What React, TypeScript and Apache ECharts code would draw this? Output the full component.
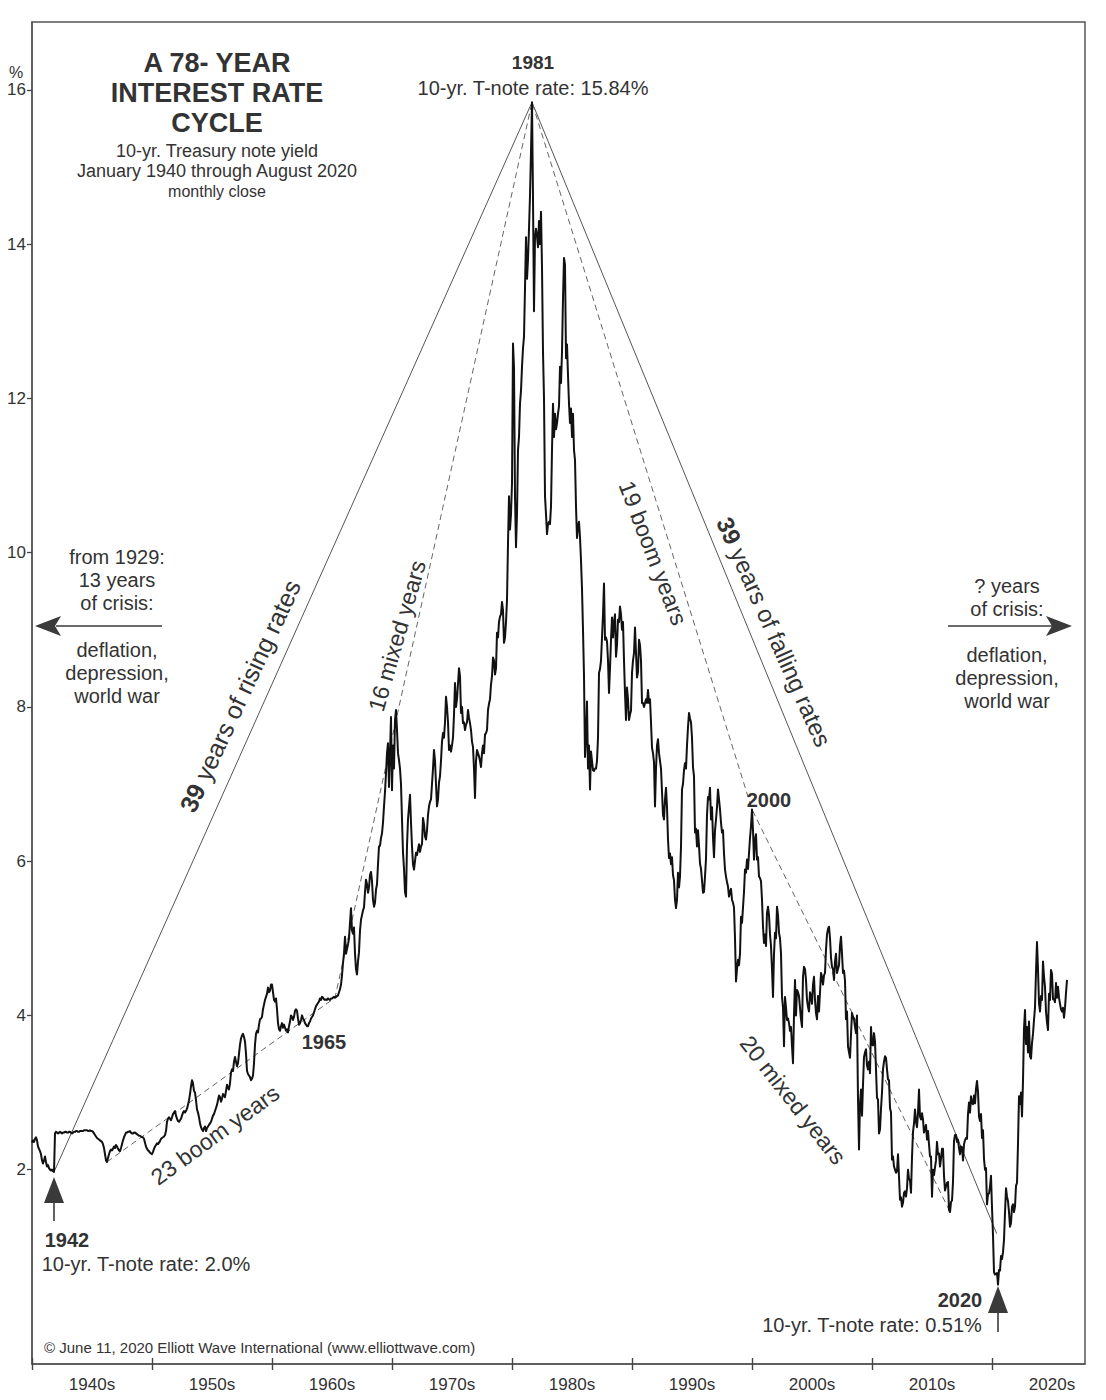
import React, { useEffect, useRef } from "react";
import * as echarts from "echarts";

const FONT = '"Liberation Sans", Arial, Helvetica, sans-serif';
const INK = "#333333";

// Monthly closes of the 10-yr. Treasury yield (%), one row per year
const y1940s = [
  2.35, 2.38, 2.36, 2.40, 2.42, 2.38, 2.30, 2.27, 2.24, 2.20, 2.12, 2.08,
  2.12, 2.17, 2.10, 2.04, 2.06, 2.02, 2.00, 1.99, 2.00, 1.98, 1.97, 2.47,
  2.49, 2.48, 2.47, 2.48, 2.49, 2.48, 2.47, 2.48, 2.48, 2.49, 2.49, 2.48,
  2.48, 2.49, 2.49, 2.48, 2.47, 2.48, 2.49, 2.49, 2.50, 2.50, 2.49, 2.49,
  2.50, 2.50, 2.50, 2.50, 2.51, 2.51, 2.51, 2.51, 2.50, 2.50, 2.51, 2.50,
  2.50, 2.49, 2.47, 2.45, 2.43, 2.41, 2.40, 2.39, 2.38, 2.37, 2.36, 2.33,
  2.28, 2.20, 2.12, 2.10, 2.15, 2.20, 2.24, 2.26, 2.25, 2.27, 2.30, 2.28,
  2.32, 2.30, 2.27, 2.25, 2.24, 2.28, 2.33, 2.38, 2.42, 2.45, 2.48, 2.48,
  2.49, 2.49, 2.50, 2.48, 2.47, 2.47, 2.48, 2.48, 2.47, 2.46, 2.45, 2.44,
  2.44, 2.43, 2.42, 2.42, 2.40, 2.35, 2.30, 2.27, 2.25, 2.24, 2.22, 2.21,
];
const y1950s = [
  2.20, 2.23, 2.27, 2.30, 2.32, 2.34, 2.33, 2.35, 2.37, 2.40, 2.41, 2.42,
  2.43, 2.45, 2.50, 2.62, 2.66, 2.68, 2.66, 2.64, 2.68, 2.72, 2.74, 2.76,
  2.70, 2.66, 2.63, 2.62, 2.64, 2.66, 2.70, 2.74, 2.76, 2.74, 2.76, 2.79,
  2.84, 2.90, 2.98, 3.08, 3.16, 3.12, 3.02, 3.00, 2.90, 2.78, 2.74, 2.68,
  2.60, 2.55, 2.52, 2.50, 2.54, 2.56, 2.50, 2.54, 2.56, 2.58, 2.60, 2.62,
  2.66, 2.70, 2.72, 2.76, 2.80, 2.84, 2.90, 2.96, 2.94, 2.88, 2.92, 2.98,
  2.96, 2.94, 3.02, 3.10, 3.06, 3.04, 3.12, 3.26, 3.30, 3.28, 3.40, 3.46,
  3.40, 3.34, 3.38, 3.50, 3.62, 3.70, 3.74, 3.76, 3.72, 3.66, 3.50, 3.28,
  3.24, 3.22, 3.20, 3.16, 3.18, 3.22, 3.38, 3.62, 3.76, 3.80, 3.78, 3.88,
  3.95, 3.96, 3.98, 4.08, 4.14, 4.20, 4.24, 4.28, 4.36, 4.30, 4.32, 4.40,
];
const y1960s = [
  4.40, 4.30, 4.20, 4.18, 4.22, 4.08, 3.90, 3.82, 3.80, 3.86, 3.90, 3.84,
  3.88, 3.84, 3.80, 3.82, 3.78, 3.86, 3.92, 4.00, 3.98, 3.94, 3.98, 4.06,
  4.08, 4.06, 3.96, 3.88, 3.90, 3.94, 4.00, 3.96, 3.94, 3.90, 3.88, 3.86,
  3.86, 3.90, 3.92, 3.96, 3.98, 4.00, 4.04, 4.08, 4.12, 4.14, 4.16, 4.18,
  4.22, 4.20, 4.24, 4.23, 4.21, 4.20, 4.21, 4.20, 4.22, 4.21, 4.20, 4.22,
  4.22, 4.23, 4.24, 4.23, 4.24, 4.25, 4.26, 4.30, 4.34, 4.40, 4.52, 4.68,
  4.80, 5.02, 4.80, 4.86, 4.92, 5.00, 5.20, 5.39, 5.10, 5.06, 5.14, 4.80,
  4.60, 4.53, 4.70, 4.82, 5.10, 5.24, 5.30, 5.36, 5.40, 5.60, 5.76, 5.70,
  5.59, 5.66, 5.82, 5.86, 5.74, 5.50, 5.41, 5.46, 5.63, 5.70, 5.96, 6.19,
  6.20, 6.30, 6.36, 6.50, 6.71, 6.90, 7.14, 7.40, 7.53, 6.96, 7.40, 7.87,
];
const y1970s = [
  6.92, 7.50, 7.20, 7.83, 7.96, 7.70, 7.40, 7.31, 7.20, 7.00, 6.54, 6.11,
  5.90, 5.60, 5.54, 6.20, 6.54, 6.70, 6.86, 6.50, 6.19, 5.96, 5.89, 6.00,
  6.11, 6.08, 6.15, 6.22, 6.12, 6.19, 6.22, 6.56, 6.48, 6.32, 6.28, 6.40,
  6.60, 6.71, 6.77, 6.80, 7.00, 7.20, 7.44, 7.30, 7.00, 6.71, 6.80, 7.02,
  7.10, 7.30, 7.55, 7.66, 7.60, 7.80, 8.13, 8.00, 7.80, 7.44, 7.50, 7.42,
  7.50, 7.60, 7.90, 8.31, 8.00, 8.10, 8.30, 8.50, 8.40, 7.92, 8.00, 7.79,
  7.80, 7.70, 7.77, 7.80, 7.96, 7.86, 7.79, 7.70, 7.55, 7.48, 7.20, 6.82,
  7.30, 7.44, 7.40, 7.36, 7.30, 7.22, 7.40, 7.50, 7.40, 7.64, 7.66, 7.70,
  7.96, 8.04, 8.10, 8.29, 8.40, 8.64, 8.60, 8.42, 8.50, 8.96, 8.90, 9.10,
  9.17, 9.20, 9.36, 9.25, 8.83, 8.90, 9.10, 9.39, 10.12, 10.73, 10.30, 10.50,
];
const y1980s = [
  10.90, 12.71, 12.40, 10.73, 10.07, 10.50, 11.33, 11.50, 11.93, 12.10, 12.41, 12.65,
  12.80, 13.43, 14.09, 13.55, 13.80, 14.20, 14.63, 15.20, 15.84, 14.60, 13.13, 14.09,
  14.20, 14.10, 13.96, 14.30, 14.00, 14.42, 13.70, 12.60, 12.00, 10.73, 10.50, 10.24,
  10.37, 10.40, 10.37, 10.60, 11.33, 11.93, 11.50, 11.80, 11.60, 11.68, 11.80, 11.90,
  12.41, 12.20, 12.60, 13.30, 13.82, 13.73, 12.52, 12.70, 12.30, 11.93, 11.68, 11.87,
  11.50, 11.80, 11.33, 11.20, 10.60, 10.19, 10.34, 10.40, 10.20, 9.90, 9.53, 9.00,
  8.40, 7.35, 7.60, 8.07, 7.20, 7.50, 6.93, 7.42, 7.30, 7.18, 7.17, 7.20,
  7.20, 7.30, 7.60, 8.44, 8.49, 8.60, 8.90, 9.20, 9.60, 8.87, 8.90, 8.85,
  8.60, 8.18, 8.50, 8.87, 9.16, 8.90, 9.10, 9.20, 8.65, 8.80, 9.13, 9.10,
  9.30, 9.20, 9.00, 9.10, 8.60, 8.18, 7.83, 8.25, 8.10, 7.83, 7.90, 7.95,
];
const y1990s = [
  8.44, 8.60, 8.70, 9.03, 8.70, 8.38, 8.45, 8.87, 8.80, 8.60, 8.05, 8.05,
  8.00, 8.05, 8.10, 8.05, 8.22, 8.05, 8.10, 7.80, 7.47, 7.40, 7.28, 6.71,
  7.20, 7.50, 7.58, 7.40, 7.30, 7.20, 6.90, 6.60, 6.54, 6.80, 6.95, 6.70,
  6.28, 6.04, 6.10, 5.96, 6.05, 5.82, 5.75, 5.50, 5.39, 5.50, 5.85, 5.66,
  5.80, 6.19, 6.93, 7.00, 7.18, 7.27, 7.20, 7.50, 7.74, 7.92, 7.85, 7.80,
  7.60, 7.22, 7.10, 6.37, 6.42, 6.19, 6.40, 6.20, 5.97, 5.90, 5.75, 5.59,
  5.60, 5.80, 6.03, 6.60, 6.83, 6.80, 6.95, 6.54, 6.70, 6.30, 6.05, 6.40,
  6.54, 6.70, 6.93, 6.80, 6.67, 6.50, 6.37, 6.40, 6.10, 5.89, 5.80, 5.73,
  5.67, 5.54, 5.60, 5.64, 5.50, 5.46, 5.40, 5.00, 4.44, 4.60, 4.72, 4.65,
  4.80, 5.28, 5.20, 5.40, 5.60, 5.89, 5.85, 6.02, 5.90, 6.10, 6.30, 6.45,
];
const y2000s = [
  6.67, 6.40, 6.02, 6.28, 6.35, 6.02, 6.05, 5.80, 5.78, 5.74, 5.50, 5.15,
  4.94, 5.05, 4.90, 5.33, 5.41, 5.30, 5.05, 4.90, 4.60, 4.24, 4.80, 5.07,
  5.00, 5.41, 5.30, 5.07, 5.00, 4.80, 4.24, 4.10, 3.60, 4.24, 4.10, 3.94,
  3.96, 3.90, 3.80, 3.85, 3.60, 3.38, 4.00, 4.46, 4.00, 4.33, 4.30, 4.25,
  4.10, 3.95, 3.85, 4.50, 4.63, 4.60, 4.46, 4.20, 4.11, 4.05, 4.30, 4.25,
  4.15, 4.40, 4.50, 4.20, 4.03, 3.95, 4.25, 4.05, 4.30, 4.55, 4.50, 4.40,
  4.52, 4.55, 4.85, 5.05, 5.12, 5.15, 5.00, 4.75, 4.63, 4.60, 4.46, 4.70,
  4.80, 4.55, 4.60, 4.65, 4.90, 5.02, 4.80, 4.55, 4.58, 4.45, 3.95, 4.05,
  3.60, 3.52, 3.45, 3.75, 4.03, 3.98, 3.95, 3.85, 3.77, 4.00, 2.92, 2.26,
  2.85, 3.04, 2.70, 3.10, 3.46, 3.52, 3.56, 3.35, 3.30, 3.40, 3.25, 3.85,
];
const y2010s = [
  3.62, 3.61, 3.77, 3.66, 3.30, 2.93, 2.91, 2.47, 2.52, 2.79, 3.00, 3.30,
  3.40, 3.47, 3.45, 3.30, 3.17, 3.16, 2.80, 2.74, 2.13, 2.17, 2.04, 2.00,
  1.96, 1.98, 2.20, 1.91, 1.61, 1.64, 1.52, 1.57, 1.70, 1.72, 1.65, 1.76,
  2.00, 1.88, 1.86, 1.70, 2.16, 2.49, 2.60, 2.78, 2.62, 2.55, 2.74, 3.04,
  2.69, 2.65, 2.73, 2.65, 2.48, 2.53, 2.58, 2.39, 2.50, 2.33, 2.17, 2.17,
  1.65, 2.00, 1.93, 2.03, 2.12, 2.36, 2.20, 2.21, 2.04, 2.14, 2.27, 2.27,
  1.92, 1.73, 1.78, 1.83, 1.84, 1.48, 1.45, 1.58, 1.60, 1.84, 2.37, 2.45,
  2.45, 2.36, 2.39, 2.28, 2.20, 2.30, 2.29, 2.12, 2.33, 2.38, 2.41, 2.40,
  2.72, 2.87, 2.74, 2.95, 2.86, 2.85, 2.96, 2.86, 3.05, 3.15, 3.01, 2.69,
  2.63, 2.72, 2.41, 2.51, 2.14, 2.00, 2.02, 1.55, 1.68, 1.69, 1.78, 1.92,
];
const y2020s = [
  1.51, 1.15, 0.67, 0.64, 0.65, 0.66, 0.51, 0.70, 0.69, 0.88, 0.84, 0.93,
  1.09, 1.44, 1.76, 1.65, 1.59, 1.45, 1.26, 1.31, 1.52, 1.55, 1.45, 1.52,
  1.79, 1.83, 2.34, 2.95, 2.85, 3.00, 2.69, 3.15, 3.83, 4.07, 3.63, 3.85,
  3.52, 3.92, 3.47, 3.44, 3.64, 3.76, 3.94, 4.10, 4.57, 4.95, 4.59, 4.16,
  4.05, 4.25, 4.20, 4.70, 4.50, 4.37, 4.05, 3.91, 3.81, 4.28, 4.20, 4.59,
  4.54, 4.21, 4.21, 4.17, 4.42, 4.23, 4.37, 4.23, 4.15, 4.08, 4.05, 4.10,
  3.97, 4.10, 4.29, 4.46,
];

const decadeStarts = [1940, 1950, 1960, 1970, 1980, 1990, 2000, 2010, 2020];
const decadeValues = [y1940s, y1950s, y1960s, y1970s, y1980s, y1990s, y2000s, y2010s, y2020s];

const yTickValues = [2, 4, 6, 8, 10, 12, 14, 16];
const decadeTicks = [1940, 1950, 1960, 1970, 1980, 1990, 2000, 2010, 2020];
const decadeLabelAt = [1945, 1955, 1965, 1975, 1985, 1995, 2005, 2015, 2025];

// trend lines between turning points [year, %]
const risingLine = [[1941 + 10 / 12, 1.97], [1981 + 8 / 12, 15.84]];
const fallingLine = [[1981 + 8 / 12, 15.84], [2020.39, 1.17]];
const dashedLine = [[1946.25, 2.1], [1965.25, 4.23], [1981 + 8 / 12, 15.84], [2000, 6.67], [2016 + 5 / 12, 1.48]];

const X_MIN = 1940;
const X_MAX = 2027.75;
const Y_MIN = -0.52;
const Y_MAX = 16.88;

function txt(x: number, y: number, text: string, size: number, opts: any = {}) {
  const bold = opts.bold ? "bold " : "";
  return {
    type: "text",
    x,
    y,
    rotation: opts.rot ? (opts.rot * Math.PI) / 180 : 0,
    silent: true,
    z: 100,
    style: {
      text,
      x: 0,
      y: 0,
      font: `${bold}${size}px ${FONT}`,
      fill: opts.color || INK,
      align: opts.align || "center",
      verticalAlign: "middle",
      textAlign: opts.align || "center",
      textVerticalAlign: "middle",
      rich: opts.rich,
    },
  };
}

function richTxt(x: number, y: number, text: string, size: number, rot: number) {
  const rich = {
    b: { fontWeight: "bold", fontSize: size, fontFamily: FONT, fill: INK, color: INK },
    n: { fontWeight: "normal", fontSize: size, fontFamily: FONT, fill: INK, color: INK },
  };
  return txt(x, y, text, size, { rot, rich });
}

const ARROW = "#3a3a3a";

function arrowGraphics() {
  const stroke = { stroke: ARROW, lineWidth: 1.6 };
  return [
    // left arrow
    { type: "line", silent: true, shape: { x1: 56, y1: 626, x2: 162, y2: 626 }, style: stroke },
    { type: "polygon", silent: true, shape: { points: [[35, 626], [61, 616], [55, 626], [61, 636]] }, style: { fill: ARROW } },
    // right arrow
    { type: "line", silent: true, shape: { x1: 948, y1: 626, x2: 1052, y2: 626 }, style: stroke },
    { type: "polygon", silent: true, shape: { points: [[1072, 626], [1046, 616], [1052, 626], [1046, 636]] }, style: { fill: ARROW } },
    // 1942 arrow
    { type: "line", silent: true, shape: { x1: 54, y1: 1200, x2: 54, y2: 1221 }, style: stroke },
    { type: "polygon", silent: true, shape: { points: [[54, 1177], [64, 1203], [44, 1203]] }, style: { fill: ARROW } },
    // 2020 arrow
    { type: "line", silent: true, shape: { x1: 998, y1: 1310, x2: 998, y2: 1332 }, style: stroke },
    { type: "polygon", silent: true, shape: { points: [[998, 1286], [1008, 1313], [988, 1313]] }, style: { fill: ARROW } },
  ];
}

export default function App() {
  const ref = useRef<HTMLDivElement>(null);

  useEffect(() => {
    if (!ref.current) return;
    const chart = echarts.init(ref.current, null, { renderer: "svg", width: 1106, height: 1400 });

    const rateData: number[][] = [];
    decadeStarts.forEach((start, d) => {
      decadeValues[d].forEach((v, i) => {
        rateData.push([start + i / 12, v]);
      });
    });

    const axisLineStyle = { color: "#555", width: 1.5 };

    const option: any = {
      animation: false,
      backgroundColor: "#ffffff",
      textStyle: { fontFamily: FONT },
      grid: {
        left: 32,
        top: 22,
        width: 1053,
        height: 1342,
        show: true,
        borderColor: "#555",
        borderWidth: 1.5,
        backgroundColor: "transparent",
        containLabel: false,
        outerBoundsMode: "none",
      },
      xAxis: [
        {
          type: "value",
          min: X_MIN,
          max: X_MAX,
          position: "bottom",
          axisLine: { show: true, onZero: false, lineStyle: axisLineStyle },
          axisTick: { show: true, length: 6, customValues: decadeTicks, lineStyle: { color: "#444", width: 1.4 } },
          axisLabel: {
            show: true,
            customValues: decadeLabelAt,
            formatter: (v: number) => `${Math.round(v - 5)}s`,
            fontSize: 17,
            fontFamily: FONT,
            color: INK,
            margin: 12,
          },
          splitLine: { show: false },
        },
        {
          type: "value",
          min: X_MIN,
          max: X_MAX,
          position: "bottom",
          axisLine: { show: false, onZero: false },
          axisTick: { show: true, inside: true, length: 6, customValues: decadeTicks, lineStyle: { color: "#444", width: 1.4 } },
          axisLabel: { show: false },
          splitLine: { show: false },
        },
      ],
      yAxis: {
        type: "value",
        min: Y_MIN,
        max: Y_MAX,
        axisLine: { show: true, onZero: false, lineStyle: axisLineStyle },
        axisTick: { show: true, length: 5, customValues: yTickValues, lineStyle: { color: "#444", width: 1.3 } },
        axisLabel: {
          show: true,
          customValues: yTickValues,
          fontSize: 17,
          fontFamily: FONT,
          color: INK,
          margin: 6,
        },
        splitLine: { show: false },
      },
      series: [
        {
          type: "line",
          data: risingLine,
          symbol: "none",
          silent: true,
          lineStyle: { color: "#555", width: 1 },
          z: 2,
        },
        {
          type: "line",
          data: fallingLine,
          symbol: "none",
          silent: true,
          lineStyle: { color: "#555", width: 1 },
          z: 2,
        },
        {
          type: "line",
          data: dashedLine,
          symbol: "none",
          silent: true,
          lineStyle: { color: "#666", width: 1, type: [6, 4] },
          z: 2,
        },
        {
          type: "line",
          data: rateData,
          symbol: "none",
          showSymbol: false,
          silent: true,
          lineStyle: { color: "#111", width: 2, join: "round" },
          z: 5,
        },
      ],
      graphic: {
        elements: [
          // title block
          txt(217, 63, "A 78- YEAR", 27, { bold: true }),
          txt(217, 93, "INTEREST RATE", 27, { bold: true }),
          txt(217, 123, "CYCLE", 27, { bold: true }),
          txt(217, 151, "10-yr. Treasury note yield", 18),
          txt(217, 171, "January 1940 through August 2020", 18),
          txt(217, 191, "monthly close", 16),
          // % unit
          txt(16, 72, "%", 16),
          // 1981 peak
          txt(533, 62, "1981", 19, { bold: true }),
          txt(533, 88, "10-yr. T-note rate: 15.84%", 20),
          // left block
          txt(117, 557, "from 1929:", 20),
          txt(117, 580, "13 years", 20),
          txt(117, 603, "of crisis:", 20),
          txt(117, 650, "deflation,", 20),
          txt(117, 673, "depression,", 20),
          txt(117, 696, "world war", 20),
          // right block
          txt(1007, 586, "? years", 20),
          txt(1007, 609, "of crisis:", 20),
          txt(1007, 655, "deflation,", 20),
          txt(1007, 678, "depression,", 20),
          txt(1007, 701, "world war", 20),
          // pivot labels
          txt(324, 1042, "1965", 20, { bold: true }),
          txt(769, 800, "2000", 20, { bold: true }),
          txt(67, 1240, "1942", 20, { bold: true }),
          txt(146, 1264, "10-yr. T-note rate: 2.0%", 20),
          txt(960, 1300, "2020", 20, { bold: true }),
          txt(872, 1325, "10-yr. T-note rate: 0.51%", 20),
          // rotated captions
          richTxt(240, 696, "{b|39}{n| years of rising rates}", 25, 65),
          txt(397, 636, "16 mixed years", 23, { rot: 74 }),
          txt(653, 553, "19 boom years", 23, { rot: -69 }),
          richTxt(774, 632, "{b|39}{n| years of falling rates}", 24, -66),
          txt(793, 1100, "20 mixed years", 23, { rot: -52 }),
          txt(215, 1135, "23 boom years", 23, { rot: 36 }),
          // copyright
          txt(44, 1347, "\u00A9 June 11, 2020 Elliott Wave International (www.elliottwave.com)", 15, { align: "left" }),
          ...arrowGraphics(),
        ],
      },
    };

    chart.setOption(option);
    return () => {
      chart.dispose();
    };
  }, []);

  return (
    <div
      ref={ref}
      style={{ position: "absolute", left: 0, top: 0, width: 1106, height: 1400, background: "#fff" }}
    />
  );
}
